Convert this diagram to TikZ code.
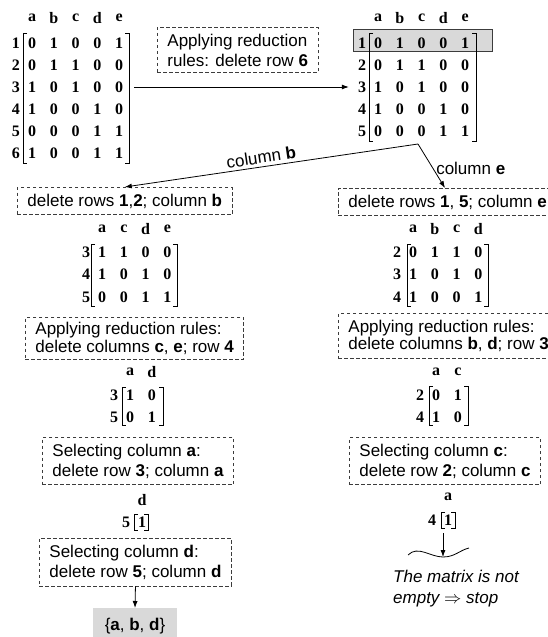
\documentclass[tikz,border=0pt]{standalone}
\usepackage{fontspec}
\setmainfont{Liberation Serif}
\newfontfamily\arialFont{Liberation Sans}
\usepackage{tikz}
\usetikzlibrary{arrows.meta}
\tikzstyle{sheet} = [x = 1pt, y = -1pt]
\definecolor{shadeColor}{RGB}{217,217,217}
\definecolor{frameColor}{RGB}{60,60,60}
\newcommand{\colSep}{21.8}
\newcommand{\entryFont}{\fontsize{16}{16}\selectfont\bfseries}
\newcommand{\boxFont}{\arialFont\fontsize{17}{20}\selectfont}
\newcommand{\tightBoxFont}{\arialFont\fontsize{17}{17.5}\selectfont}
\newcommand{\stopFont}{\arialFont\itshape\fontsize{17}{21}\selectfont}
\tikzstyle{entryStyle} = [inner sep = 0pt, font = \entryFont]
\tikzstyle{bracketLine} = [color = black, line width = .7pt]
\tikzstyle{ruleBox} = [draw = frameColor, dash pattern = on 3.5pt off 2.5pt, line width = .9pt, inner xsep = 10pt, inner ysep = 6.5pt, align = left, anchor = north west, font = \boxFont]
\tikzstyle{flowArrow} = [-{Latex[length = 7pt, width = 5pt]}, line width = .8pt]
\tikzstyle{edgeLabel} = [font = \boxFont, inner sep = 3pt]
\tikzstyle{resultStyle} = [fill = shadeColor, minimum width = 84pt, minimum height = 36pt, anchor = north, font = \boxFont]
\tikzstyle{rowMark} = [fill = shadeColor, draw = frameColor, line width = .8pt]
\newcommand{\columnLabels}[4]{
  \foreach \lab [count = \cnum] in {#4} {
    \node [entryStyle] (#1-h\cnum) at (#2 + \colSep * \cnum - \colSep, #3) {\lab};
  }
}
\newcommand{\matrixRow}[5]{
  \node [entryStyle] (#1-r#4) at (#2 - 16, #3) {#4};
  \foreach \val [count = \cnum] in {#5} {
    \node [entryStyle] (#1-#4-\cnum) at (#2 + \colSep * \cnum - \colSep, #3) {\val};
  }
}
\newcommand{\matrixBrackets}[4]{
  \draw [bracketLine] (#1 + 4, #3) -- (#1, #3) -- (#1, #4) -- (#1 + 4, #4);
  \draw [bracketLine] (#2 - 4, #3) -- (#2, #3) -- (#2, #4) -- (#2 - 4, #4);
}

\begin{document}
\begin{tikzpicture}[sheet]
          \useasboundingbox (0, 0) rectangle (548, 637);

          \columnLabels{ma}{32}{18}{a,b,c,d,e}
          \matrixRow{ma}{32}{43}{1}{0,1,0,0,1}
          \matrixRow{ma}{32}{65}{2}{0,1,1,0,0}
          \matrixRow{ma}{32}{87}{3}{1,0,1,0,0}
          \matrixRow{ma}{32}{109}{4}{1,0,0,1,0}
          \matrixRow{ma}{32}{131}{5}{0,0,0,1,1}
          \matrixRow{ma}{32}{153}{6}{1,0,0,1,1}
          \matrixBrackets{23}{129}{33}{163}

          \node [ruleBox] (ruleSix) at (157, 27) {Applying reduction\\rules: delete row \textbf{6}};

          \filldraw [rowMark] (353, 29) rectangle (492, 51);
          \columnLabels{mb}{378}{18}{a,b,c,d,e}
          \matrixRow{mb}{378}{43}{1}{0,1,0,0,1}
          \matrixRow{mb}{378}{65}{2}{0,1,1,0,0}
          \matrixRow{mb}{378}{87}{3}{1,0,1,0,0}
          \matrixRow{mb}{378}{109}{4}{1,0,0,1,0}
          \matrixRow{mb}{378}{131}{5}{0,0,0,1,1}
          \matrixBrackets{369}{476}{33}{141}
          \draw [flowArrow] ([xshift = 11pt]ma-3-5.east) -- ([xshift = -9pt]mb-r3.west);

          \coordinate (split) at (418, 144);
          \node [ruleBox] (delB) at (17, 187) {delete rows \textbf{1},\textbf{2}; column \textbf{b}};
          \node [ruleBox] (delE) at (338, 188) {delete rows \textbf{1}, \textbf{5}; column \textbf{e}};
          \draw [flowArrow] (split) -- node [edgeLabel, sloped, above, pos = .53] {column \textbf{b}} (delB.north);
          \draw [flowArrow] (split) -- node [edgeLabel, right, pos = .55] {column \textbf{e}} ([xshift = 107pt]delE.north west);

          \columnLabels{mc}{102}{229}{a,c,d,e}
          \matrixRow{mc}{102}{252}{3}{1,1,0,0}
          \matrixRow{mc}{102}{274.5}{4}{1,0,1,0}
          \matrixRow{mc}{102}{297}{5}{0,0,1,1}
          \matrixBrackets{91}{177}{244}{306}

          \columnLabels{md}{413}{229}{a,b,c,d}
          \matrixRow{md}{413}{252}{2}{0,1,1,0}
          \matrixRow{md}{413}{274.5}{3}{1,0,1,0}
          \matrixRow{md}{413}{297}{4}{1,0,0,1}
          \matrixBrackets{407}{488}{244}{306}

          \node [ruleBox, font = \tightBoxFont, inner ysep = 5pt] (ruleCE) at (25, 317) {Applying reduction rules:\\delete columns \textbf{c}, \textbf{e}; row \textbf{4}};
          \node [ruleBox, font = \tightBoxFont] (ruleBD) at (338, 313) {Applying reduction rules:\\delete columns \textbf{b}, \textbf{d}; row \textbf{3}};

          \columnLabels{me}{130}{372}{a,d}
          \matrixRow{me}{130}{395}{3}{1,0}
          \matrixRow{me}{130}{417}{5}{0,1}
          \matrixBrackets{122}{163}{387}{425}

          \columnLabels{mf}{436}{372}{a,c}
          \matrixRow{mf}{436}{395}{2}{0,1}
          \matrixRow{mf}{436}{417}{4}{1,0}
          \matrixBrackets{429}{468}{386}{425}

          \node [ruleBox] (selA) at (42, 437) {Selecting column \textbf{a}:\\delete row \textbf{3}; column \textbf{a}};
          \node [ruleBox] (selC) at (349, 437) {Selecting column \textbf{c}:\\delete row \textbf{2}; column \textbf{c}};

          \columnLabels{mg}{142}{500}{d}
          \matrixRow{mg}{142}{522}{5}{1}
          \matrixBrackets{134}{148}{514}{530}

          \columnLabels{mh}{448}{497}{a}
          \matrixRow{mh}{448}{520}{4}{1}
          \matrixBrackets{441}{455}{512}{528}

          \node [ruleBox] (selD) at (39, 538) {Selecting column \textbf{d}:\\delete row \textbf{5}; column \textbf{d}};
          \node [resultStyle] (result) at (135, 608) {\{\textbf{a}, \textbf{b}, \textbf{d}\}};
          \draw [flowArrow] (selD.south) -- (result.north);

          \coordinate (stopFoot) at (443, 533);
          \coordinate (dip) at (443, 557);
          \draw [flowArrow] (stopFoot) -- (dip);
          \draw [line width = .8pt] (408, 555) .. controls (418, 545) and (430, 557) .. (dip) .. controls (455, 557) and (460, 550) .. (469, 548);
          \node [font = \stopFont, align = left, anchor = north west, inner sep = 0pt] (stopNote) at (393, 570) {The matrix is not\\empty $\Rightarrow$ stop};
\end{tikzpicture}
\end{document}
